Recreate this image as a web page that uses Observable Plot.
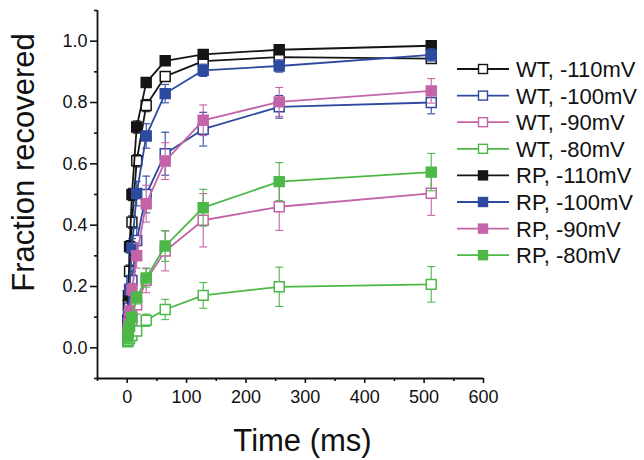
<!DOCTYPE html>
<html><head><meta charset="utf-8">
<script src="https://cdn.jsdelivr.net/npm/d3@7"></script>
<script src="https://cdn.jsdelivr.net/npm/@observablehq/plot@0.6"></script>
<style>body{margin:0;background:#fff}</style>
</head><body><div id="chart"></div>
<script>
const times = [1, 2, 4, 8, 16, 32, 64, 128, 256, 512];

const wt110 = [0.07, 0.14, 0.25, 0.41, 0.61, 0.79, 0.885, 0.935, 0.948, 0.943];
const wt110Err = [0.01, 0.015, 0.02, 0.02, 0.02, 0.02, 0.015, 0.015, 0.01, 0.015];
const wt100 = [0.05, 0.08, 0.13, 0.22, 0.35, 0.50, 0.633, 0.713, 0.786, 0.800];
const wt100Err = [0.01, 0.015, 0.02, 0.03, 0.04, 0.06, 0.07, 0.055, 0.037, 0.037];
const wt90 = [0.03, 0.04, 0.06, 0.09, 0.14, 0.22, 0.316, 0.416, 0.460, 0.504];
const wt90Err = [0.01, 0.01, 0.015, 0.02, 0.03, 0.04, 0.065, 0.087, 0.077, 0.072];
const wt80 = [0.02, 0.025, 0.03, 0.04, 0.055, 0.09, 0.125, 0.171, 0.199, 0.207];
const wt80Err = [0.005, 0.005, 0.01, 0.01, 0.015, 0.02, 0.033, 0.042, 0.064, 0.058];
const rp110 = [0.09, 0.17, 0.33, 0.50, 0.72, 0.865, 0.936, 0.957, 0.972, 0.985];
const rp110Err = [0.01, 0.015, 0.02, 0.02, 0.02, 0.015, 0.01, 0.01, 0.01, 0.01];
const rp100 = [0.06, 0.11, 0.19, 0.326, 0.503, 0.691, 0.829, 0.905, 0.919, 0.955];
const rp100Err = [0.01, 0.015, 0.02, 0.03, 0.04, 0.04, 0.03, 0.02, 0.02, 0.02];
const rp90 = [0.05, 0.08, 0.12, 0.19, 0.30, 0.47, 0.609, 0.742, 0.802, 0.838];
const rp90Err = [0.01, 0.01, 0.015, 0.02, 0.04, 0.06, 0.06, 0.05, 0.047, 0.04];
const rp80 = [0.035, 0.05, 0.07, 0.10, 0.163, 0.228, 0.332, 0.457, 0.542, 0.573];
const rp80Err = [0.01, 0.01, 0.01, 0.015, 0.02, 0.03, 0.05, 0.06, 0.062, 0.061];

const seriesNames = ["WT, -110mV", "WT, -100mV", "WT, -90mV", "WT, -80mV",
                     "RP, -110mV", "RP, -100mV", "RP, -90mV", "RP, -80mV"];
const seriesValues = [wt110, wt100, wt90, wt80, rp110, rp100, rp90, rp80];
const seriesErrors = [wt110Err, wt100Err, wt90Err, wt80Err, rp110Err, rp100Err, rp90Err, rp80Err];
const seriesColors = ["#151515", "#2d4a9e", "#c464a8", "#4cb848",
                      "#151515", "#2d4a9e", "#c464a8", "#4cb848"];
const seriesFilled = [false, false, false, false, true, true, true, true];

const xMajor = [0, 100, 200, 300, 400, 500, 600];
const xMinor = [-50, 50, 150, 250, 350, 450, 550];
const yMajor = [0, 0.2, 0.4, 0.6, 0.8, 1.0];
const yMinor = [-0.1, 0.1, 0.3, 0.5, 0.7, 0.9, 1.1];

const rows = [];
seriesNames.forEach((name, s) => {
  times.forEach((t, i) => {
    rows.push({series: name, t, v: seriesValues[s][i], e: seriesErrors[s][i],
               color: seriesColors[s], filled: seriesFilled[s]});
  });
});

const capSymbol = {draw(ctx, size) { const w = Math.sqrt(size); ctx.moveTo(-w / 2, 0); ctx.lineTo(w / 2, 0); }};

const marks = [];
seriesNames.forEach((name, s) => {
  const d = rows.filter(r => r.series === name);
  const c = seriesColors[s];
  marks.push(Plot.line(d, {x: "t", y: "v", stroke: c, strokeWidth: 1.8}));
  marks.push(Plot.ruleX(d, {x: "t", y1: r => r.v - r.e, y2: r => r.v + r.e, stroke: c, strokeWidth: 1.1}));
  marks.push(Plot.dot(d, {x: "t", y: r => r.v + r.e, symbol: capSymbol, r: 4.5, stroke: c, strokeWidth: 1.1}));
  marks.push(Plot.dot(d, {x: "t", y: r => r.v - r.e, symbol: capSymbol, r: 4.5, stroke: c, strokeWidth: 1.1}));
  marks.push(Plot.dot(d, {x: "t", y: "v", symbol: "square", r: 5.6, stroke: c, strokeWidth: 1.5,
                          fill: seriesFilled[s] ? c : "white"}));
});

const plot = Plot.plot({
  width: 644, height: 460,
  marginLeft: 97, marginRight: 161, marginTop: 10, marginBottom: 82,
  style: {fontFamily: "'Liberation Sans', Arial, sans-serif", fontSize: "18px", color: "#111", background: "white"},
  x: {domain: [-50, 600]},
  y: {domain: [-0.1, 1.1]},
  marks: [
    Plot.axisX({ticks: xMajor, tickSize: 5, tickPadding: 7, label: null, strokeWidth: 1.6}),
    Plot.axisX({ticks: xMinor, tickSize: 3, tickFormat: () => "", label: null, strokeWidth: 1.6}),
    Plot.axisY({ticks: yMajor, tickSize: 7, tickPadding: 3, tickFormat: d => d.toFixed(1), label: null, strokeWidth: 1.6}),
    Plot.axisY({ticks: yMinor, tickSize: 3, tickFormat: () => "", label: null, strokeWidth: 1.6}),
    Plot.ruleX([-50], {strokeWidth: 1.8}),
    Plot.ruleY([-0.1], {strokeWidth: 1.8}),
    ...marks,
    Plot.text(["Time (ms)"], {frameAnchor: "bottom", text: d => d, fontSize: 31, dx: 12, dy: 63, lineAnchor: "middle", textAnchor: "middle"}),
    Plot.text(["Fraction recovered"], {frameAnchor: "left", text: d => d, fontSize: 31, rotate: -90, dx: -73, dy: -32, lineAnchor: "middle", textAnchor: "middle"})
  ]
});

document.getElementById("chart").appendChild(plot);

// legend
const svg = d3.select(plot);
const lg = svg.append("g").attr("font-family", "'Liberation Sans', Arial, sans-serif").attr("font-size", 22)
  .attr("text-anchor", "start");
seriesNames.forEach((name, s) => {
  const y = 69 + s * 26.6;
  const c = seriesColors[s];
  lg.append("line").attr("x1", 457).attr("x2", 509).attr("y1", y).attr("y2", y)
    .attr("stroke", c).attr("stroke-width", 1.8);
  lg.append("rect").attr("x", 483 - 4.5).attr("y", y - 4.5).attr("width", 9).attr("height", 9)
    .attr("fill", seriesFilled[s] ? c : "white").attr("stroke", c).attr("stroke-width", 1.4);
  lg.append("text").attr("x", 516).attr("y", y).attr("dy", "0.36em").attr("text-anchor", "start")
    .attr("fill", "#111").text(name);
});
</script>
</body></html>
